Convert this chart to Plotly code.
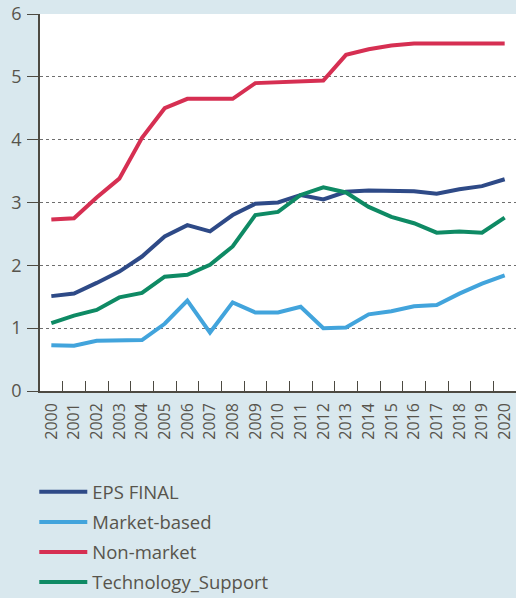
import plotly.graph_objects as go

years = [str(y) for y in range(2000, 2021)]
eps_final = [1.51, 1.55, 1.72, 1.90, 2.14, 2.46, 2.64, 2.54, 2.80, 2.98, 3.00,
             3.12, 3.05, 3.17, 3.19, 3.18, 3.18, 3.14, 3.21, 3.26, 3.37]
market_based = [0.73, 0.72, 0.80, 0.81, 0.81, 1.07, 1.44, 0.93, 1.41, 1.25, 1.25,
                1.34, 1.00, 1.01, 1.22, 1.27, 1.35, 1.37, 1.55, 1.71, 1.84]
non_market = [2.73, 2.75, 3.08, 3.38, 4.03, 4.50, 4.65, 4.65, 4.65, 4.90, 4.91,
              4.93, 4.94, 5.35, 5.44, 5.50, 5.53, 5.53, 5.53, 5.53, 5.53]
tech_support = [1.08, 1.20, 1.29, 1.49, 1.56, 1.82, 1.85, 2.01, 2.30, 2.80, 2.85,
                3.12, 3.24, 3.16, 2.93, 2.77, 2.67, 2.52, 2.54, 2.52, 2.76]

series = [
    ("EPS FINAL", eps_final, "#2e4a87"),
    ("Market-based", market_based, "#42a4dc"),
    ("Non-market", non_market, "#d62f52"),
    ("Technology_Support", tech_support, "#0e8a64"),
]

fig = go.Figure()
for name, vals, color in series:
    fig.add_trace(go.Scatter(x=years, y=vals, name=name, mode="lines",
                             legendgroup=name,
                             line=dict(color=color, width=4)))

axis_color = "#4d4a42"
text_color = "#57544c"
fig.update_layout(
    width=516, height=598,
    margin=dict(l=40, r=0, t=14, b=207, autoexpand=False),
    paper_bgcolor="#d9e8ee",
    plot_bgcolor="#ffffff",
    font=dict(family="Open Sans, Noto Sans, sans-serif", color=text_color, size=14),
    showlegend=True,
    legend=dict(orientation="v", x=-0.012, xanchor="left",
                yref="container", y=0.2085, yanchor="top",
                font=dict(size=18.5, color=text_color), bgcolor="rgba(0,0,0,0)",
                tracegroupgap=3, itemwidth=48),
    xaxis=dict(type="category", tickangle=-90, showline=True, linecolor=axis_color,
               linewidth=1.5, ticks="inside", ticklen=10, tickcolor=axis_color,
               tickson="boundaries", showgrid=False, tickfont=dict(size=16),
               range=[-0.5, 20.5], ticklabelstandoff=4, automargin=False),
    yaxis=dict(range=[0, 6], dtick=1, showline=True, linecolor=axis_color,
               linewidth=1.5, ticks="outside", ticklen=11, tickcolor=axis_color,
               showgrid=True, gridcolor="#6e6e6e", griddash="dot", gridwidth=1,
               zeroline=False, tickfont=dict(size=18), ticklabelstandoff=2,
               automargin=False),
)

fig.write_html(
    "out.html",
    config={"displayModeBar": False},
    post_script="document.body.style.margin='0';document.body.style.overflow='hidden';",
)
